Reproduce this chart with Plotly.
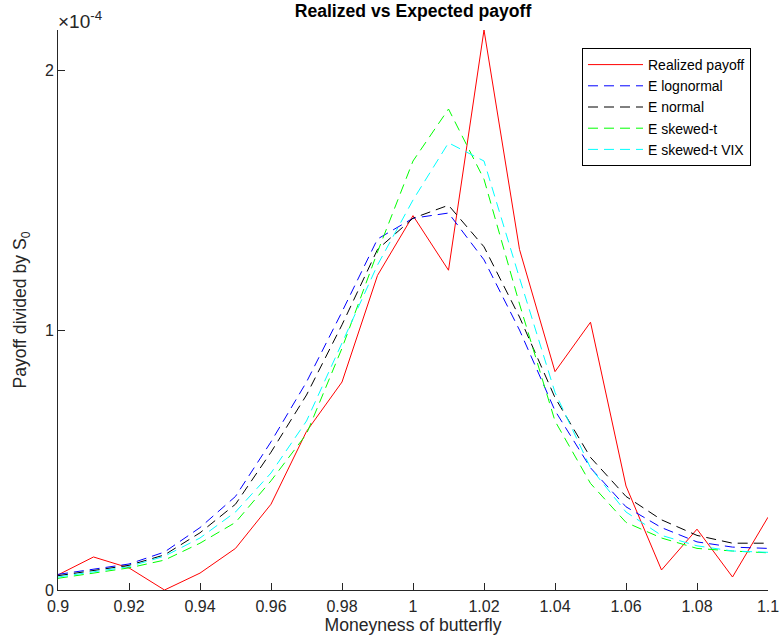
import plotly.graph_objects as go

moneyness = [0.90, 0.91, 0.92, 0.93, 0.94, 0.95, 0.96, 0.97, 0.98, 0.99, 1.00,
             1.01, 1.02, 1.03, 1.04, 1.05, 1.06, 1.07, 1.08, 1.09, 1.10]

realized = [0.058, 0.127, 0.085, 0.0, 0.065, 0.16, 0.33, 0.61, 0.80, 1.21, 1.44,
            1.23, 2.154, 1.31, 0.84, 1.03, 0.40, 0.077, 0.234, 0.05, 0.28]
e_lognormal = [0.06, 0.08, 0.10, 0.146, 0.24, 0.36, 0.57, 0.80, 1.07, 1.35, 1.43,
               1.45, 1.27, 1.00, 0.69, 0.47, 0.32, 0.24, 0.185, 0.165, 0.16]
e_normal = [0.055, 0.075, 0.095, 0.135, 0.22, 0.33, 0.53, 0.75, 1.02, 1.31, 1.43,
            1.48, 1.32, 1.05, 0.74, 0.51, 0.36, 0.27, 0.21, 0.18, 0.18]
e_skewt = [0.045, 0.065, 0.085, 0.115, 0.18, 0.26, 0.42, 0.60, 0.93, 1.30, 1.65,
           1.85, 1.58, 1.10, 0.65, 0.41, 0.26, 0.20, 0.16, 0.15, 0.143]
e_skewt_vix = [0.05, 0.07, 0.09, 0.13, 0.20, 0.30, 0.45, 0.65, 0.95, 1.25, 1.50,
               1.72, 1.65, 1.20, 0.76, 0.47, 0.30, 0.21, 0.17, 0.15, 0.145]

scale = 1e-4
x_ticks = [0.9, 0.92, 0.94, 0.96, 0.98, 1.0, 1.02, 1.04, 1.06, 1.08, 1.1]
x_tick_labels = ["0.9", "0.92", "0.94", "0.96", "0.98", "1", "1.02", "1.04", "1.06", "1.08", "1.1"]
y_ticks = [0, 1e-4, 2e-4]
y_tick_labels = ["0", "1", "2"]

series = [
    ("Realized payoff", realized, "#ff0000", "solid"),
    ("E lognormal", e_lognormal, "#0000ff", "10px,6px"),
    ("E normal", e_normal, "#000000", "10px,6px"),
    ("E skewed-t", e_skewt, "#00ff00", "10px,6px"),
    ("E skewed-t VIX", e_skewt_vix, "#00ffff", "10px,6px"),
]

fig = go.Figure()
for name, vals, color, dash in series:
    fig.add_trace(go.Scatter(
        x=moneyness, y=[v * scale for v in vals], mode="lines", name=name,
        line=dict(color=color, width=1, dash=dash),
    ))

font = "Liberation Sans, Arial, Helvetica, sans-serif"
axis_color = "#262626"

fig.update_layout(
    width=779, height=635,
    margin=dict(l=58, r=11, t=30, b=45, autoexpand=False),
    plot_bgcolor="white", paper_bgcolor="white",
    font=dict(family=font, size=16, color=axis_color),
    title=dict(text="<b>Realized vs Expected payoff</b>", x=0.5, xanchor="center",
               xref="paper", yref="container", y=1 - 5 / 635, yanchor="top",
               font=dict(size=17.6, color="black")),
    xaxis=dict(range=[0.9, 1.1], tickvals=x_ticks, ticktext=x_tick_labels,
               showline=True, linecolor=axis_color, linewidth=1, mirror=False,
               ticks="inside", ticklen=7, tickcolor=axis_color, showgrid=False,
               zeroline=False, automargin=False, ticklabelstandoff=2,
               ticklabeloverflow="allow",
               title=dict(text="Moneyness of butterfly", standoff=4, font=dict(size=17.6))),
    yaxis=dict(range=[0, 2.154e-4], tickvals=y_ticks, ticktext=y_tick_labels,
               showline=True, linecolor=axis_color, linewidth=1, mirror=False,
               ticks="inside", ticklen=7, tickcolor=axis_color, showgrid=False,
               zeroline=False, automargin=False, ticklabeloverflow="allow",
               title=dict(text="Payoff divided by S<sub>0</sub>", standoff=13, font=dict(size=17.6))),
    legend=dict(x=(582 - 58) / 710, y=(590 - 48) / 560, xanchor="left", yanchor="top",
                bordercolor="black", borderwidth=1, bgcolor="white",
                font=dict(size=14, color="black"), tracegroupgap=0, itemwidth=55),
    showlegend=True,
)

fig.add_annotation(text="×10<sup>-4</sup>", xref="paper", yref="paper", x=0, y=1,
                   xanchor="left", yanchor="bottom", showarrow=False,
                   font=dict(size=19, color=axis_color), yshift=-4, xshift=-2)

fig.write_html("out.html", config={"displayModeBar": False},
               post_script="document.body.style.margin='0';")
